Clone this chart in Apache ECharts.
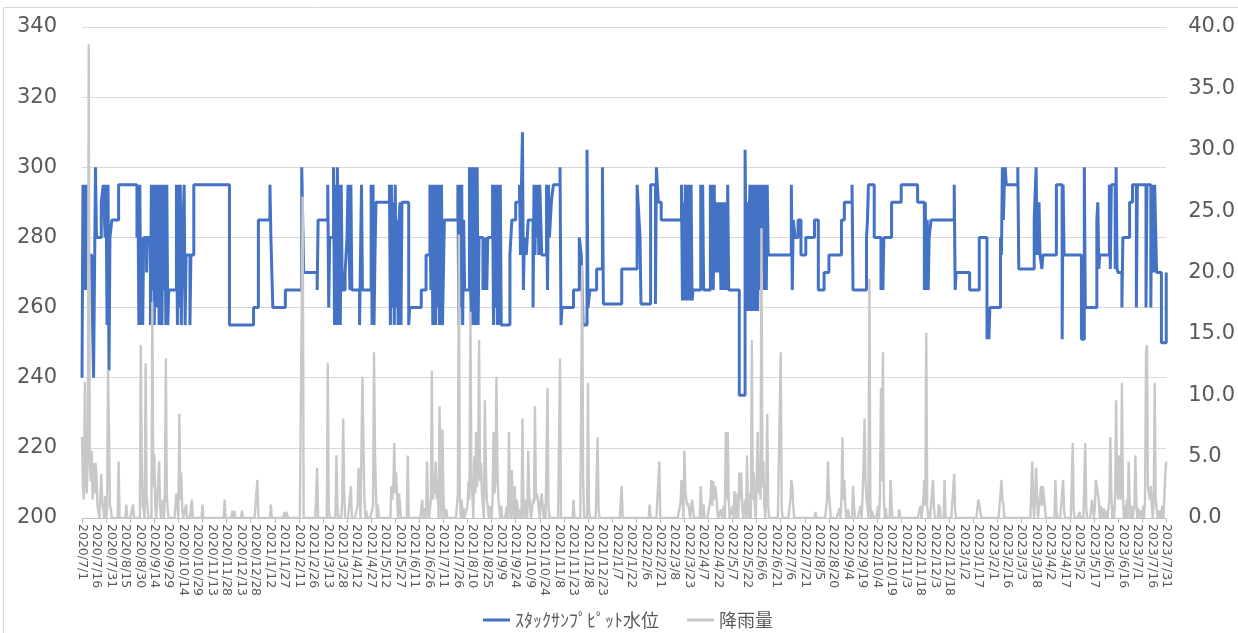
<!DOCTYPE html>
<html><head><meta charset="utf-8">
<script src="https://cdn.jsdelivr.net/npm/echarts@6/dist/echarts.min.js"></script>
<style>html,body{margin:0;padding:0;background:#fff}#c{width:1238px;height:633px}</style>
</head><body><div id="c"></div>
<script>
// ---- data ----
const startDate = [2020, 7, 1];
const endDate = [2023, 7, 31];
const seriesNames = ['ｽﾀｯｸｻﾝﾌﾟﾋﾟｯﾄ水位', '降雨量'];
const leftTicks = { min: 200, max: 340, interval: 20 };
const rightTicks = { min: 0, max: 40, interval: 5 };
// water level: [day index from start, level] (value holds until the next point)
const levelPoints = [
[0,240],[1,295],[2,265],[3,295],[4,265],[5,295],[6,265],[7,275],[10,270],[12,240],[14,300],[15,280],[20,290],[22,295],[24,280],[25,295],[26,255],[27,295],[28,242],[29,280],[31,285],[38,295],[57,280],[58,295],[59,255],[60,295],[61,255],[62,280],[63,255],[64,280],[67,270],[68,280],[71,255],[72,295],[73,265],[74,295],[75,255],[76,295],[78,260],[79,295],[80,255],[81,295],[83,255],[84,295],[85,265],[86,295],[87,255],[88,295],[89,255],[90,265],[98,295],[99,255],[100,295],[101,260],[102,295],[103,255],[104,275],[106,295],[107,255],[108,275],[112,255],[113,275],[116,295],[153,255],[178,260],[183,285],[195,295],[196,280],[198,260],[211,265],[228,300],[230,270],[244,265],[245,285],[255,295],[256,260],[257,280],[261,300],[262,255],[263,295],[264,255],[265,300],[266,255],[267,295],[268,255],[269,295],[270,265],[273,270],[275,280],[276,295],
[278,265],[279,295],[280,265],[288,255],[290,295],[291,265],[300,295],[301,255],[302,295],[303,255],[304,275],[305,290],[319,295],[320,255],[321,295],[322,260],[323,290],[324,255],[325,295],[326,260],[327,285],[328,255],[329,285],[330,290],[331,255],[332,290],[339,255],[340,260],[352,265],[357,275],[361,295],[362,265],[363,295],[364,255],[365,280],[366,295],[367,255],[368,295],[369,260],[370,295],[371,255],[372,280],[373,295],[374,255],[376,285],[390,295],[391,255],[392,295],[393,260],[394,295],[395,255],[396,285],[397,265],[402,300],[403,270],[404,255],[405,300],[406,255],[407,290],[408,300],[409,255],[410,300],[411,255],[412,280],[416,265],[417,280],[418,265],[419,280],[420,265],[421,280],[426,295],[427,255],[428,295],[429,260],[430,295],[431,255],[432,295],[433,255],[434,295],[435,255],[444,275],[446,285],[450,290],[454,295],[455,275],[456,295],[457,310],[458,265],[459,280],[461,275],[463,285],[468,260],[469,295],[470,275],[471,295],[472,280],[473,295],[474,275],[475,295],[476,285],[477,275],[482,295],[483,265],[484,295],[485,280],[487,290],[489,295],[496,300],[497,255],[498,260],[510,265],[516,280],[518,275],[520,255],[524,305],[525,260],[527,265],[534,271],[540,300],[541,261],[560,271],
[576,295],[577,290],[579,280],[580,261],[590,295],[595,261],[596,300],[598,290],[601,285],[622,295],[623,262],[624,290],[625,262],[626,295],[627,262],[628,280],[629,295],[630,262],[631,275],[632,295],[633,262],[634,265],[642,295],[643,265],[644,295],[645,265],[652,295],[653,265],[654,295],[655,265],[656,295],[657,270],[658,290],[660,270],[661,290],[663,265],[664,290],[665,265],[666,290],[667,265],[668,290],[669,265],[670,295],[671,265],[682,235],[688,305],[689,275],[690,290],[691,259],[692,280],[693,295],[694,259],[695,295],[696,259],[697,290],[698,295],[699,259],[700,295],[701,259],[702,285],[703,295],[704,265],[705,295],[706,270],[707,295],[708,265],[709,295],[710,265],[711,295],[712,275],[736,295],[737,265],[738,285],[740,280],[743,285],[746,275],[751,280],[760,285],[764,265],[770,270],[775,275],[788,285],[791,290],[799,295],[800,265],[814,280],[815,285],[816,295],[822,280],[829,265],[830,280],[831,265],[832,280],[840,290],[850,295],
[867,290],[874,265],[875,290],[876,265],[877,285],[878,265],[879,280],[881,285],[905,295],[906,265],[907,270],[921,265],[931,280],[939,251],[940,260],[941,251],[942,260],[953,280],[954,275],[955,300],[956,285],[957,295],[958,300],[959,295],[971,300],[972,271],[988,285],[990,300],[991,275],[993,290],[994,275],[996,271],[997,275],[1011,295],[1017,251],[1018,295],[1019,275],[1037,251],[1040,300],[1041,260],[1053,285],[1054,290],[1055,271],[1056,275],[1066,295],[1067,271],[1068,295],[1072,271],[1073,300],[1074,271],[1075,270],[1079,260],[1080,280],[1087,290],[1090,295],[1094,260],[1095,295],[1104,260],[1105,295],[1109,260],[1110,295],[1112,270],[1113,295],[1115,270],[1120,250],[1125,270]
];
// rainfall: [day index from start, mm] (other days 0)
const rainDays = [
[0,6.6],[1,2.5],[2,1.5],[3,11.1],[4,4.0],[5,2.0],[6,5.0],[7,38.6],[8,5.5],[9,3.0],[10,5.5],[11,1.5],[12,4.5],[13,2.0],[14,4.5],[15,3.7],[16,1.0],[17,0.5],[20,3.6],[21,1.2],[22,0.8],[24,1.8],[26,0.6],[27,12.1],[28,7.6],[29,1.0],[30,0.7],[38,4.6],[46,1.1],[53,1.1],[61,14.1],[62,4.5],[63,1.0],[64,0.6],[66,12.6],[67,2.0],[68,0.8],[73,17.6],[74,2.5],[75,5.2],[76,1.0],[80,4.6],[81,1.0],[84,1.5],[86,1.8],[87,13.0],[88,2.0],[89,0.6],[98,2.0],[99,1.0],[101,8.5],[102,1.5],[103,3.7],[104,0.8],[108,1.1],[114,1.5],[125,1.1],[148,1.5],[156,0.6],[158,0.6],[166,0.6],[182,3.1],[196,1.1],[210,0.5],[212,0.5],[213,0.5],[229,26.2],[244,4.1],[255,12.6],[256,0.8],[264,5.1],[265,1.0],[270,1.5],[271,8.1],[272,2.2],[279,2.6],
[286,1.0],[287,4.1],[288,2.0],[291,11.5],[292,6.3],[293,1.5],[295,0.6],[302,1.0],[303,13.5],[304,5.5],[305,2.0],[307,1.1],[321,2.6],[322,1.5],[323,2.6],[324,6.1],[325,2.0],[326,3.7],[327,1.5],[329,2.0],[330,1.0],[338,5.1],[353,1.5],[356,0.8],[358,4.6],[359,1.0],[362,1.5],[363,12.0],[364,1.5],[365,2.6],[366,2.0],[367,4.6],[368,1.5],[369,3.0],[371,9.1],[372,2.5],[374,7.2],[375,2.0],[378,0.7],[389,1.0],[390,2.0],[391,23.1],[392,2.0],[394,1.5],[396,0.8],[400,1.0],[401,3.0],[402,1.5],[403,16.8],[404,3.4],[405,2.0],[407,5.0],[408,2.0],[409,7.0],[410,2.5],[411,4.8],[412,14.5],[413,3.0],[414,4.5],[415,2.0],[416,1.0],[418,9.6],[419,4.6],[420,1.5],[421,1.0],[424,1.0],[426,1.5],[427,7.0],[428,2.0],[429,3.0],[430,11.5],[431,4.5],[432,1.5],[433,0.8],[435,1.0],[441,1.0],[443,7.0],[444,1.5],[446,3.9],[447,1.0],[449,2.6],[451,1.5],[452,1.0],[455,0.7],[457,8.1],[458,1.0],[460,1.5],[461,0.6],[463,5.5],[464,2.0],[465,0.8],[468,1.5],[469,1.2],[470,9.1],[471,1.5],[472,2.0],[473,1.5],[474,1.5],[476,1.5],[477,2.0],[478,1.0],[480,1.1],[483,10.6],[484,1.0],[496,13.0],[510,1.5],[519,20.6],[520,3.0],[525,11.0],[526,0.8],[535,6.6],[536,0.7],[560,2.6],
[589,1.1],[599,4.6],[621,1.2],[622,3.1],[623,1.8],[625,5.5],[626,2.2],[627,1.5],[628,1.0],[629,1.2],[630,0.6],[633,1.5],[634,0.8],[642,2.6],[643,1.0],[645,1.1],[652,1.5],[653,3.1],[654,1.0],[655,3.0],[656,1.5],[657,2.6],[658,2.0],[659,0.8],[663,0.7],[666,1.0],[668,7.0],[669,1.5],[670,7.0],[671,1.5],[675,1.0],[677,2.2],[678,1.0],[680,2.0],[682,3.7],[683,1.5],[684,3.7],[685,1.0],[688,1.5],[690,5.1],[691,1.0],[693,2.0],[695,14.5],[696,1.5],[697,3.7],[698,1.0],[700,2.5],[701,7.0],[702,2.0],[703,4.5],[704,1.5],[705,23.6],[706,2.5],[707,4.6],[708,1.0],[710,1.5],[711,8.5],[712,1.0],[725,13.5],[726,0.8],[735,1.5],[736,3.1],[737,2.6],[738,1.0],[761,0.5],[773,1.5],[774,4.6],[775,2.0],[776,1.0],[786,0.8],[788,1.5],[789,6.6],[790,1.5],[791,3.1],[792,1.0],[795,0.7],[800,2.6],[801,1.0],[808,1.0],[810,2.0],[811,4.5],[812,8.1],[813,3.1],[814,1.5],[815,1.0],[817,19.5],[818,1.0],[820,0.6],[826,1.0],[828,2.0],[829,10.6],[830,3.0],[831,13.5],[832,1.5],[834,0.8],[839,3.1],[840,1.0],[848,0.7],
[870,1.0],[873,1.5],[874,3.1],[875,1.0],[876,15.1],[877,1.0],[879,0.6],[883,3.1],[884,0.8],[889,1.1],[890,0.8],[895,3.1],[905,3.6],[906,0.6],[930,1.5],[931,1.1],[932,0.6],[952,1.0],[953,2.0],[954,3.1],[955,1.5],[956,1.1],[986,4.6],[987,1.0],[990,4.1],[991,1.5],[995,2.6],[996,1.0],[997,2.6],[998,2.6],[999,1.0],[1010,3.1],[1011,0.7],[1018,3.1],[1019,0.6],[1028,6.1],[1029,0.6],[1035,0.5],[1041,6.1],[1042,0.7],[1048,1.5],[1049,0.6],[1051,1.0],[1052,3.1],[1053,2.6],[1054,2.0],[1055,1.5],[1057,1.0],[1060,0.8],[1063,0.6],[1066,1.5],[1067,6.6],[1068,2.0],[1070,1.0],[1072,2.0],[1073,9.6],[1074,3.0],[1075,1.5],[1076,5.1],[1077,2.0],[1078,1.5],[1079,11.0],[1080,2.0],[1082,1.0],[1084,1.5],[1086,4.6],[1087,1.5],[1089,1.0],[1092,1.0],[1093,5.1],[1094,1.2],[1096,0.8],[1099,0.6],[1101,1.0],[1103,1.5],[1104,13.5],[1105,14.1],[1106,2.5],[1107,2.6],[1108,1.5],[1109,2.6],[1110,1.0],[1112,1.5],[1113,11.0],[1114,1.6],[1115,0.8],[1118,0.6],[1121,1.0],[1123,1.5],[1124,3.6],[1125,4.6]
];

// ---- build ----
function buildDates() {
  const out = [];
  let t = Date.UTC(startDate[0], startDate[1] - 1, startDate[2]);
  const e = Date.UTC(endDate[0], endDate[1] - 1, endDate[2]);
  while (t <= e) {
    const d = new Date(t);
    out.push(d.getUTCFullYear() + '/' + (d.getUTCMonth() + 1) + '/' + d.getUTCDate());
    t += 86400000;
  }
  return out;
}
const categories = buildDates();
const rainMap = {};
rainDays.forEach(([d, v]) => { rainMap[d] = v; });
const rainSeries = categories.map((_, i) => (rainMap[i] !== undefined ? rainMap[i] : 0));

const axisFont = 'DejaVu Sans';
const chart = echarts.init(document.getElementById('c'), null, { renderer: 'canvas' });
chart.setOption({
  animation: false,
  backgroundColor: '#ffffff',
  graphic: [{
    type: 'rect', silent: true,
    shape: { x: 3.5, y: 7.5, width: 1300, height: 700 },
    style: { fill: 'none', stroke: '#D9D9D9', lineWidth: 1 }
  }],
  grid: { left: 82, right: 70, top: 27, bottom: 115, containLabel: false },
  legend: {
    left: 478, top: 606, icon: 'rect', itemWidth: 27, itemHeight: 3, itemGap: 28,
    textStyle: { fontSize: 18, color: '#595959', fontFamily: 'Noto Sans CJK JP' },
    data: seriesNames
  },
  xAxis: {
    type: 'category', data: categories, boundaryGap: false,
    axisLine: { lineStyle: { color: '#BFBFBF', width: 1 } },
    axisTick: { show: true, interval: 24, length: 5, lineStyle: { color: '#BFBFBF' } },
    axisLabel: { interval: 14, rotate: -90, fontSize: 12.5, color: '#595959', margin: 6, fontFamily: axisFont },
    splitLine: { show: false }
  },
  yAxis: [{
    type: 'value', position: 'left', min: leftTicks.min, max: leftTicks.max, interval: leftTicks.interval,
    axisLine: { show: false }, axisTick: { show: false },
    axisLabel: { fontSize: 21, color: '#595959', margin: 25, fontFamily: axisFont },
    splitLine: { lineStyle: { color: '#D9D9D9', width: 1 } }
  }, {
    type: 'value', position: 'right', min: rightTicks.min, max: rightTicks.max, interval: rightTicks.interval,
    axisLine: { show: false }, axisTick: { show: false },
    axisLabel: { fontSize: 21, color: '#595959', margin: 22, fontFamily: axisFont, formatter: v => v.toFixed(1) },
    splitLine: { show: false }
  }],
  series: [{
    name: seriesNames[0], type: 'line', step: 'end', yAxisIndex: 0,
    data: levelPoints, symbol: 'none', color: '#4472C4',
    lineStyle: { color: '#4472C4', width: 3 }, z: 2
  }, {
    name: seriesNames[1], type: 'line', yAxisIndex: 1,
    data: rainSeries, symbol: 'none', color: '#C8C8C8',
    lineStyle: { color: '#C8C8C8', width: 2.4 }, z: 3
  }]
});
</script>
</body></html>
